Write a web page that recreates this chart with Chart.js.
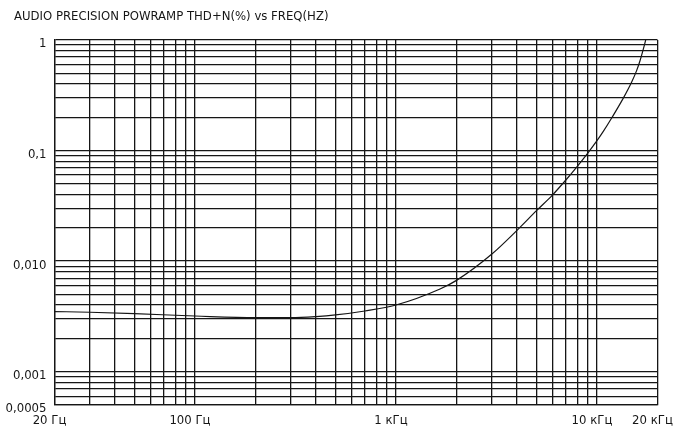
<!DOCTYPE html>
<html>
<head>
<meta charset="utf-8">
<script src="https://cdn.jsdelivr.net/npm/chart.js@4.4.1/dist/chart.umd.min.js"></script>
<style>
  html, body { margin: 0; padding: 0; background: #fff; }
  #wrap { width: 682px; height: 432px; }
</style>
</head>
<body>
<div id="wrap"><canvas id="c" width="682" height="432"></canvas></div>
<script>
// THD+N (%) measured against frequency (Hz)
const freqHz = [20, 30, 50, 100, 200, 300, 400, 500, 700, 1000, 1656, 2000, 3000, 4000, 5000, 6000, 7000, 8000, 9000, 10000, 10750, 11830, 13520, 14880, 15760, 16370, 17000, 17470];
const thdPct = [0.00350, 0.00345, 0.00335, 0.00319, 0.00308, 0.00308, 0.00315, 0.00326, 0.00354, 0.00401, 0.00560, 0.00670, 0.01160, 0.0190, 0.0286, 0.0396, 0.0542, 0.0725, 0.0950, 0.1229, 0.149, 0.197, 0.298, 0.417, 0.531, 0.649, 0.826, 1.0];

// Axis limits
const xMin = 20, xMax = 20000;
const yMin = 0.0005, yMax = 1;

// Labelled ticks
const xTickLabels = { '20': '20 Гц', '100': '100 Гц', '1000': '1 кГц', '10000': '10 кГц', '20000': '20 кГц' };
const yTickLabels = { '1': '1', '0.1': '0,1', '0.01': '0,010', '0.001': '0,001', '0.0005': '0,0005' };

const titleText = 'AUDIO PRECISION POWRAMP THD+N(%) vs FREQ(HZ)';

const FONT = "'DejaVu Sans Condensed', 'Liberation Sans Narrow', sans-serif";
const INK = '#161616';

// Log-paper grid: every 1..9 multiple of each decade inside the range
function logGrid(lo, hi) {
  const out = [];
  for (let e = Math.floor(Math.log10(lo)); e <= Math.ceil(Math.log10(hi)); e++) {
    for (let m = 1; m <= 9; m++) {
      const v = Number((m * Math.pow(10, e)).toPrecision(6));
      if (v >= lo - 1e-12 && v <= hi + 1e-12) out.push(v);
    }
  }
  if (!out.includes(lo)) out.unshift(lo);
  if (!out.includes(hi)) out.push(hi);
  return out;
}
const xGrid = logGrid(xMin, xMax);
const yGrid = logGrid(yMin, yMax);

const points = freqHz.map((f, i) => ({ x: f, y: thdPct[i] }));

// Heading in the top-left corner, above the grid
const headingPlugin = {
  id: 'heading',
  afterDraw(chart) {
    const ctx = chart.ctx;
    ctx.save();
    ctx.font = '13px ' + FONT;
    ctx.fillStyle = INK;
    ctx.textAlign = 'left';
    ctx.textBaseline = 'middle';
    ctx.fillText(titleText, 14, 17);
    ctx.restore();
  }
};

new Chart(document.getElementById('c').getContext('2d'), {
  type: 'scatter',
  data: {
    datasets: [{
      data: points,
      showLine: true,
      borderColor: INK,
      borderWidth: 1.2,
      pointRadius: 0,
      cubicInterpolationMode: 'monotone',
      fill: false
    }]
  },
  options: {
    responsive: false,
    animation: false,
    devicePixelRatio: 1,
    layout: { padding: { left: 0, right: 24.5, top: 40, bottom: 0 } },
    plugins: {
      legend: { display: false },
      tooltip: { enabled: false },
      title: { display: false }
    },
    scales: {
      x: {
        type: 'logarithmic',
        min: xMin,
        max: xMax,
        afterBuildTicks(scale) { scale.ticks = xGrid.map(v => ({ value: v })); },
        afterFit(scale) {
          scale.height = 27;
          scale.paddingLeft = 0;
          scale.paddingRight = 0;
        },
        grid: { color: INK, lineWidth: 1.3, drawTicks: false },
        border: { color: INK, width: 1.3 },
        ticks: {
          autoSkip: false,
          maxRotation: 0,
          padding: 8,
          labelOffset: -5,
          color: INK,
          font: { family: FONT, size: 13 },
          callback(v) { return xTickLabels[String(v)] || ''; }
        }
      },
      y: {
        type: 'logarithmic',
        min: yMin,
        max: yMax,
        afterBuildTicks(scale) { scale.ticks = yGrid.map(v => ({ value: v })); },
        afterFit(scale) { scale.width = 54.5; },
        grid: { color: INK, lineWidth: 1.3, drawTicks: false },
        border: { color: INK, width: 1.3 },
        ticks: {
          autoSkip: false,
          padding: 8,
          labelOffset: 4,
          color: INK,
          font: { family: FONT, size: 13 },
          callback(v) { return yTickLabels[String(v)] || ''; }
        }
      }
    }
  },
  plugins: [headingPlugin]
});
</script>
</body>
</html>
